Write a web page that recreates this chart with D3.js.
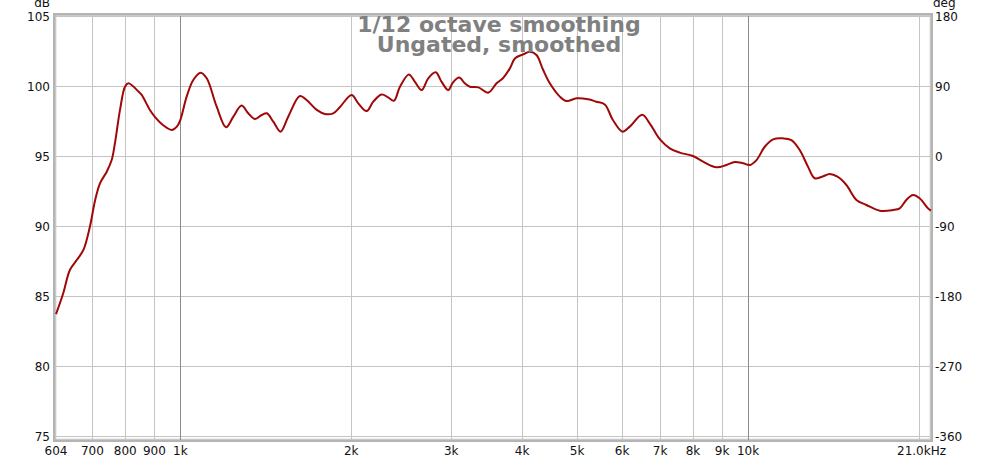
<!DOCTYPE html>
<html><head><meta charset="utf-8">
<script src="https://cdn.jsdelivr.net/npm/d3@7"></script>
<style>
html,body{margin:0;padding:0;background:#fff;}
svg{display:block;font-family:"DejaVu Sans",sans-serif;}
</style></head>
<body><svg id="c" width="1000" height="461"></svg>
<script>
const titleLines = ["1/12 octave smoothing", "Ungated, smoothed"];
const freqs = [604,622,639,657,675,693,708,722,742,757,767,783,799,810,844,855,884,902,933,966,986,1000,1026,1054,1086,1113,1159,1204,1240,1282,1317,1354,1391,1420,1458,1502,1549,1624,1669,1739,1798,1859,1911,2003,2058,2129,2187,2262,2323,2378,2437,2527,2588,2661,2733,2817,2884,2965,3020,3099,3170,3236,3350,3485,3606,3700,3806,3887,4018,4128,4240,4356,4475,4662,4790,4988,5228,5401,5593,5780,6009,6190,6510,6710,6990,7280,7580,8000,8334,8799,9162,9476,9800,10070,10350,10700,11070,11520,11920,12330,12750,13100,13500,13930,14370,14900,15520,16160,17060,18000,18500,19000,19520,20050,20750,21000];
const spl = [83.7,85.2,86.86,87.57,88.29,89.95,91.86,93.05,93.88,94.71,95.9,98.29,99.95,100.19,99.6,99.36,98.29,97.8,97.2,96.86,97.1,97.57,99.24,100.43,100.95,100.55,98.52,97.05,97.81,98.6,98.05,97.64,97.93,98.05,97.45,96.74,97.81,99.29,99.0,98.29,98.0,98.05,98.5,99.36,98.76,98.21,98.88,99.4,99.19,98.95,99.95,100.83,100.31,99.71,100.55,100.98,100.31,99.71,100.24,100.6,100.19,99.95,99.9,99.52,100.19,100.55,101.26,101.98,102.26,102.45,102.21,101.14,100.19,99.24,98.93,99.12,99.05,98.88,98.68,97.57,96.74,97.1,97.95,97.33,96.2,95.55,95.24,95.0,94.6,94.19,94.36,94.57,94.48,94.36,94.71,95.66,96.19,96.26,96.14,95.43,94.24,93.41,93.52,93.71,93.52,92.93,91.86,91.5,91.09,91.14,91.26,91.86,92.21,91.98,91.26,91.1];
const dbTicks = [75,80,85,90,95,100,105];
const degTicks = [-360,-270,-180,-90,0,90,180];
const freqGrid = [700,800,900,1000,2000,3000,4000,5000,6000,7000,8000,9000,10000,20000];
const freqMajor = [1000,10000];
const freqLabels = [[604,"604"],[700,"700"],[800,"800"],[900,"900"],[1000,"1k"],[2000,"2k"],[3000,"3k"],[4000,"4k"],[5000,"5k"],[6000,"6k"],[7000,"7k"],[8000,"8k"],[9000,"9k"],[10000,"10k"]];
const lastLabel = [21000,"21.0kHz"];

const svg = d3.select("#c");
const x = d3.scaleLog().domain([604,21000]).range([56,931]);
const y = d3.scaleLinear().domain([75,105]).range([436,16]);
const yDeg = d3.scaleLinear().domain([-360,180]).range([436,16]);

// frame
svg.append("rect").attr("x",54.5).attr("y",14.5).attr("width",877).attr("height",426)
  .attr("fill","#fff").attr("stroke","#b4b4b4").attr("stroke-width",3);
svg.append("rect").attr("x",56).attr("y",16).attr("width",874).attr("height",423)
  .attr("fill","#fff").attr("stroke","#dcdcdc").attr("stroke-width",1);

const g = svg.append("g");
g.selectAll("line.h").data(dbTicks).join("line")
  .attr("x1",56).attr("x2",930).attr("y1",d=>Math.round(y(d))+0.5).attr("y2",d=>Math.round(y(d))+0.5)
  .attr("stroke","#c4c4c4").attr("stroke-width",1);
g.selectAll("line.v").data(freqGrid).join("line")
  .attr("y1",16).attr("y2",440).attr("x1",d=>Math.round(x(d))+0.5).attr("x2",d=>Math.round(x(d))+0.5)
  .attr("stroke",d=>freqMajor.includes(d)?"#8c8c8c":"#c4c4c4").attr("stroke-width",1);

// curve
const line = d3.line().x((d,i)=>x(freqs[i])).y(d=>y(d)).curve(d3.curveCatmullRom.alpha(0.5));
svg.append("path").attr("d",line(spl)).attr("fill","none").attr("stroke","#a00808").attr("stroke-width",2)
  .attr("stroke-linejoin","round");

// title
svg.append("g").selectAll("text").data(titleLines).join("text")
  .attr("x",499).attr("y",(d,i)=>32+i*20).attr("text-anchor","middle")
  .attr("font-size",22).attr("font-weight","bold").attr("fill","#808080").text(d=>d);

// left axis labels
svg.append("g").selectAll("text").data(dbTicks).join("text")
  .attr("x",50).attr("y",d=>y(d)+4.5).attr("text-anchor","end").attr("font-size",12).attr("fill","#111").text(d=>d);
svg.append("text").attr("x",50).attr("y",7).attr("text-anchor","end").attr("font-size",12).attr("fill","#111").text("dB");
// right axis labels
svg.append("g").selectAll("text").data(degTicks).join("text")
  .attr("x",935).attr("y",d=>yDeg(d)+4.5).attr("font-size",12).attr("fill","#111").text(d=>d);
svg.append("text").attr("x",933).attr("y",7).attr("font-size",12).attr("fill","#111").text("deg");
// bottom labels
svg.append("g").selectAll("text").data(freqLabels).join("text")
  .attr("x",d=>x(d[0])).attr("y",455).attr("text-anchor","middle").attr("font-size",12).attr("fill","#111").text(d=>d[1]);
svg.append("text").attr("x",x(lastLabel[0])+15).attr("y",455).attr("text-anchor","end").attr("font-size",12).attr("fill","#111").text(lastLabel[1]);
</script></body></html>
